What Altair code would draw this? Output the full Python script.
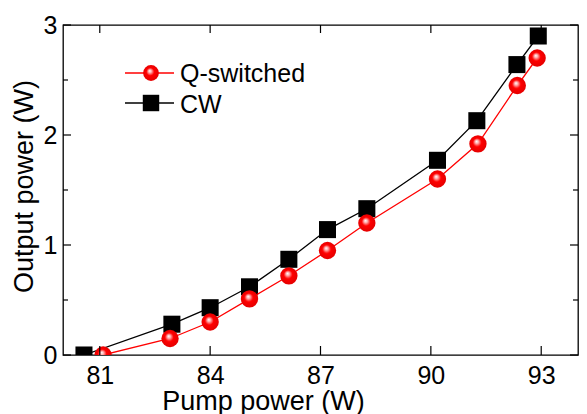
import altair as alt
import pandas as pd

# ---- data ----
cw_x = [80.57, 82.96, 84.0, 85.07, 86.14, 87.19, 88.26, 90.18, 91.25, 92.34, 92.92]
cw_y = [0.0, 0.28, 0.43, 0.62, 0.87, 1.14, 1.33, 1.77, 2.13, 2.64, 2.90]
q_x = [81.09, 82.91, 84.0, 85.07, 86.14, 87.19, 88.26, 90.18, 91.28, 92.35, 92.89]
q_y = [0.0, 0.15, 0.30, 0.51, 0.72, 0.95, 1.20, 1.60, 1.92, 2.45, 2.70]
series_names = ["Q-switched", "CW"]
x_ticks = [81, 84, 87, 90, 93]
y_major = [0, 1, 2, 3]
y_minor = [0.5, 1.5, 2.5]
x_title = "Pump power (W)"
y_title = "Output power (W)"

W, H = 515, 330
FONT = "Liberation Sans"

cw = pd.DataFrame({"x": cw_x, "y": cw_y})
qs = pd.DataFrame({"x": q_x, "y": q_y})
xt = pd.DataFrame({"x": x_ticks})
ymj = pd.DataFrame({"y": y_major})
ymn = pd.DataFrame({"y": y_minor})

xscale = alt.Scale(domain=[80, 94], nice=False, zero=False)
yscale = alt.Scale(domain=[0, 3], nice=False, zero=False)

xaxis = alt.Axis(
    values=x_ticks, ticks=False, domain=False, grid=False,
    labelFont=FONT, labelFontSize=25, labelColor="black", labelPadding=8,
    labelFlush=False, labelOverlap=False,
    title=x_title, titleFont=FONT, titleFontSize=27, titleFontWeight="normal",
    titleColor="black", titleX=200, titleY=54, titleBaseline="alphabetic",
    titleAlign="center")
yaxis = alt.Axis(
    values=y_major, ticks=False, domain=False, grid=False,
    labelFont=FONT, labelFontSize=25, labelColor="black", labelPadding=6,
    labelFlush=False, labelOverlap=False,
    title=y_title, titleFont=FONT, titleFontSize=27, titleFontWeight="normal",
    titleColor="black", titleX=-31, titleY=161, titleAngle=-90,
    titleBaseline="alphabetic", titleAlign="center")

X = alt.X("x:Q", scale=xscale, axis=xaxis)
Y = alt.Y("y:Q", scale=yscale, axis=yaxis)

sphere = {
    "gradient": "radial",
    "x1": 0.42, "y1": 0.36, "r1": 0.0,
    "x2": 0.5, "y2": 0.5, "r2": 0.55,
    "stops": [
        {"offset": 0.0, "color": "#ffffff"},
        {"offset": 0.18, "color": "#ffb0b0"},
        {"offset": 0.45, "color": "#ff0000"},
        {"offset": 1.0, "color": "#e00000"},
    ],
}

cw_line = alt.Chart(cw).mark_line(color="black", strokeWidth=1.3, clip=True).encode(x=X, y=Y)
cw_pts = alt.Chart(cw).mark_point(shape="square", filled=True, fill="black", opacity=1,
                                  size=290, strokeWidth=0, clip=True).encode(x=X, y=Y)
q_line = alt.Chart(qs).mark_line(color="#ff0000", strokeWidth=1.3, clip=True).encode(x=X, y=Y)
q_pts = alt.Chart(qs).mark_point(shape="circle", filled=True, fill=sphere, opacity=1,
                                 size=300, strokeWidth=0, clip=True).encode(x=X, y=Y)

# inward ticks
tick_style = dict(color="black", strokeWidth=1.2)
t_bottom = alt.Chart(xt).mark_rule(**tick_style).encode(x=X, y=alt.value(H), y2=alt.value(H - 9))
t_top = alt.Chart(xt).mark_rule(**tick_style).encode(x=X, y=alt.value(0), y2=alt.value(8))
t_left = alt.Chart(ymj).mark_rule(**tick_style).encode(y=Y, x=alt.value(0), x2=alt.value(8))
t_right = alt.Chart(ymj).mark_rule(**tick_style).encode(y=Y, x=alt.value(W - 8), x2=alt.value(W))
m_left = alt.Chart(ymn).mark_rule(**tick_style).encode(y=Y, x=alt.value(0), x2=alt.value(5))
m_right = alt.Chart(ymn).mark_rule(**tick_style).encode(y=Y, x=alt.value(W - 5), x2=alt.value(W))

# manual legend
leg = pd.DataFrame({"name": series_names})
l1 = leg.iloc[[0]]
l2 = leg.iloc[[1]]
ly1, ly2 = 48, 78
lx0, lx1, lxs, lxt = 62, 111, 88, 117
leg_layers = [
    alt.Chart(l1).mark_rule(color="#ff0000", strokeWidth=1.3).encode(
        x=alt.value(lx0), x2=alt.value(lx1), y=alt.value(ly1)),
    alt.Chart(l1).mark_point(shape="circle", filled=True, fill=sphere, opacity=1, size=250,
                             strokeWidth=0).encode(x=alt.value(lxs), y=alt.value(ly1)),
    alt.Chart(l1).mark_text(align="left", baseline="middle", font=FONT, fontSize=25,
                            color="black").encode(x=alt.value(lxt), y=alt.value(ly1 + 1), text="name:N"),
    alt.Chart(l2).mark_rule(color="black", strokeWidth=1.3).encode(
        x=alt.value(lx0), x2=alt.value(lx1), y=alt.value(ly2)),
    alt.Chart(l2).mark_point(shape="square", filled=True, fill="black", opacity=1, size=270,
                             strokeWidth=0).encode(x=alt.value(lxs), y=alt.value(ly2)),
    alt.Chart(l2).mark_text(align="left", baseline="middle", font=FONT, fontSize=25,
                            color="black").encode(x=alt.value(lxt), y=alt.value(ly2 + 2), text="name:N"),
]

chart = alt.layer(
    cw_line, cw_pts, q_line, q_pts,
    t_bottom, t_top, t_left, t_right, m_left, m_right,
    *leg_layers
).properties(
    width=W, height=H,
    autosize=alt.AutoSizeParams(type="none"),
    padding={"left": 55, "top": 17, "right": 1, "bottom": 59},
    background="white",
).configure_view(
    stroke="black", strokeWidth=1.3
)

chart.save("out.html", embed_options={"renderer": "svg", "actions": False})
